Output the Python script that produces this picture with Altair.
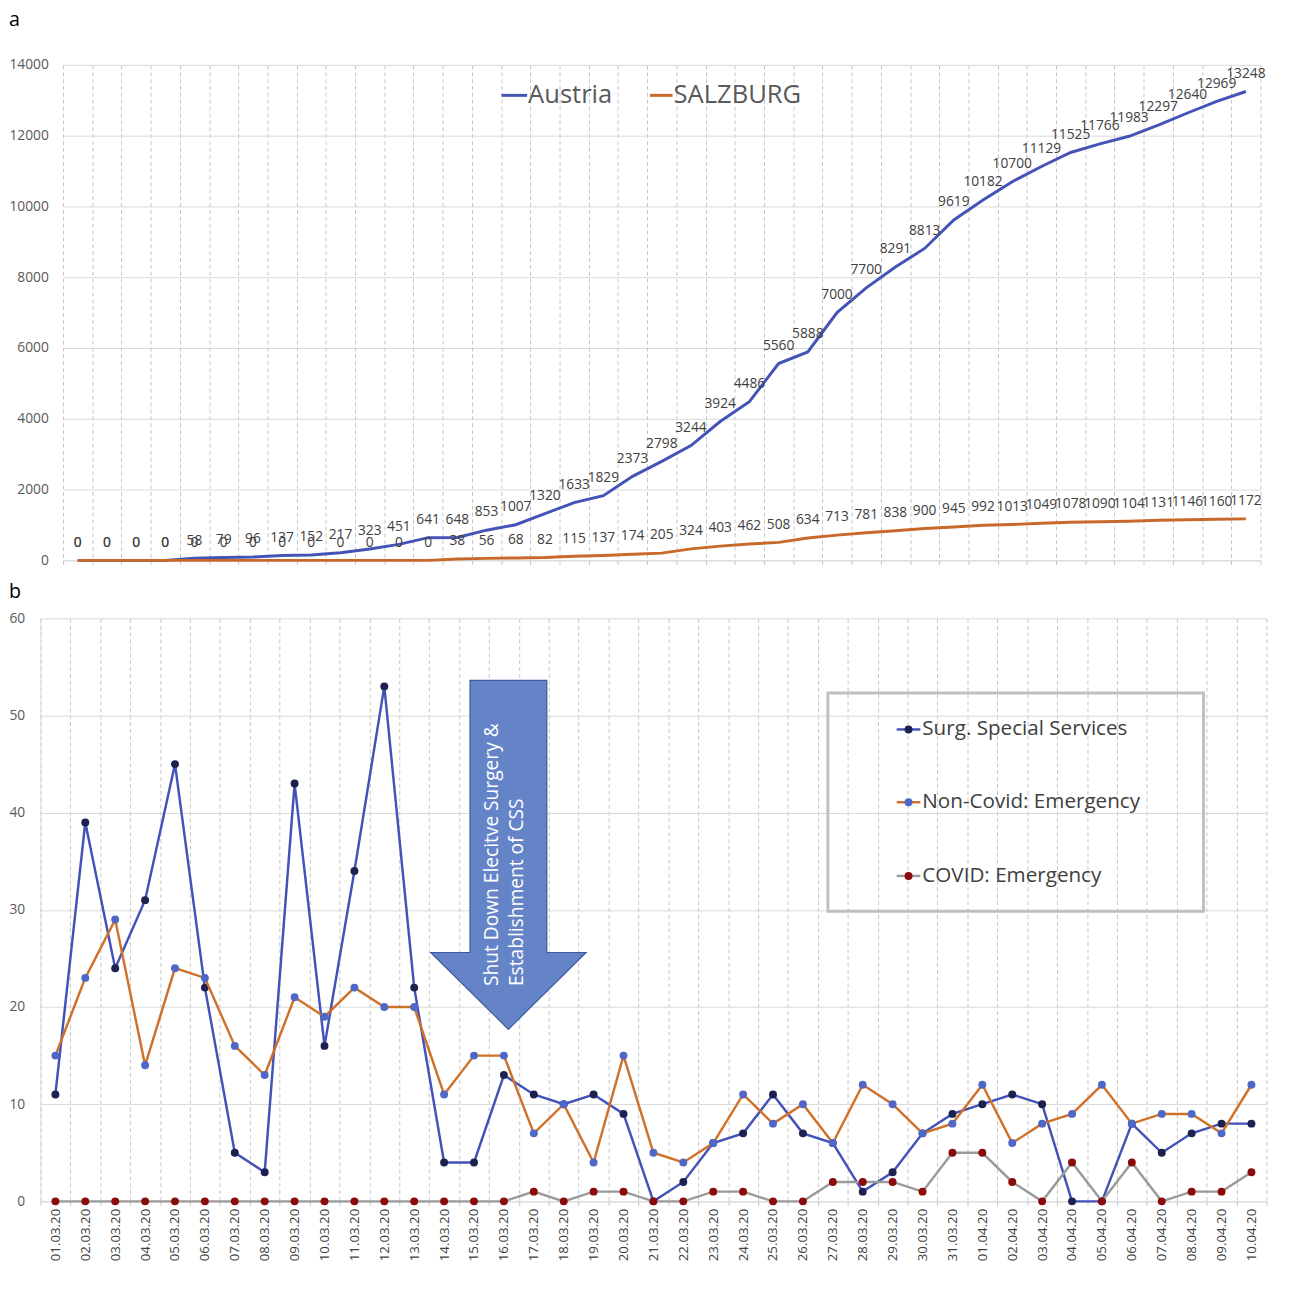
import altair as alt
import pandas as pd

dates = [
    "01.03.20", "02.03.20", "03.03.20", "04.03.20", "05.03.20", "06.03.20",
    "07.03.20", "08.03.20", "09.03.20", "10.03.20", "11.03.20", "12.03.20",
    "13.03.20", "14.03.20", "15.03.20", "16.03.20", "17.03.20", "18.03.20",
    "19.03.20", "20.03.20", "21.03.20", "22.03.20", "23.03.20", "24.03.20",
    "25.03.20", "26.03.20", "27.03.20", "28.03.20", "29.03.20", "30.03.20",
    "31.03.20", "01.04.20", "02.04.20", "03.04.20", "04.04.20", "05.04.20",
    "06.04.20", "07.04.20", "08.04.20", "09.04.20", "10.04.20",
]
austria = [0, 0, 0, 0, 58, 79, 96, 137, 152, 217, 323, 451, 641, 648, 853,
           1007, 1320, 1633, 1829, 2373, 2798, 3244, 3924, 4486, 5560, 5888,
           7000, 7700, 8291, 8813, 9619, 10182, 10700, 11129, 11525, 11766,
           11983, 12297, 12640, 12969, 13248]
salzburg = [0, 0, 0, 0, 0, 0, 0, 0, 0, 0, 0, 0, 0, 38, 56, 68, 82, 115, 137,
            174, 205, 324, 403, 462, 508, 634, 713, 781, 838, 900, 945, 992,
            1013, 1049, 1078, 1090, 1104, 1131, 1146, 1160, 1172]
surg = [11, 39, 24, 31, 45, 22, 5, 3, 43, 16, 34, 53, 22, 4, 4, 13, 11, 10,
        11, 9, 0, 2, 6, 7, 11, 7, 6, 1, 3, 7, 9, 10, 11, 10, 0, 0, 8, 5, 7, 8, 8]
noncovid = [15, 23, 29, 14, 24, 23, 16, 13, 21, 19, 22, 20, 20, 11, 15, 15, 7,
            10, 4, 15, 5, 4, 6, 11, 8, 10, 6, 12, 10, 7, 8, 12, 6, 8, 9, 12, 8,
            9, 9, 7, 12]
covid = [0, 0, 0, 0, 0, 0, 0, 0, 0, 0, 0, 0, 0, 0, 0, 0, 1, 0, 1, 1, 0, 0, 1,
         1, 0, 0, 2, 2, 2, 1, 5, 5, 2, 0, 4, 0, 4, 0, 1, 1, 3]

series_a = ["Austria", "SALZBURG"]
keys_b = ["surg", "noncovid", "covid"]
names_b = ["Surg. Special Services", "Non-Covid: Emergency", "COVID: Emergency"]
yticks_a = [0, 2000, 4000, 6000, 8000, 10000, 12000, 14000]
yticks_b = [0, 10, 20, 30, 40, 50, 60]

df_a = pd.DataFrame({"date": dates, "Austria": austria, "SALZBURG": salzburg})
df_b = pd.DataFrame({"date": dates, "surg": surg, "noncovid": noncovid, "covid": covid})
one = pd.DataFrame({"k": [0]})

FONT = "Open Sans"
GRID = "#D9D9D9"
VGRID = "#C4C4C4"
LABEL = "#595959"
line_a_colors = ["#4353B6", "#C8692B"]
line_b_colors = ["#4352B8", "#D0712A", "#9A9A9A"]
dot_b_colors = ["#1C2150", "#4F68C8", "#8B0A0A"]

SHIFT_B = 23
WA = 1218
WB = 1224

band_a = alt.Scale(type="band", domain=dates, paddingInner=0, paddingOuter=0)
band_b = alt.Scale(type="band", domain=dates, paddingInner=0, paddingOuter=0,
                   range=[-SHIFT_B, WB])


def x_enc(axis, scale):
    return alt.X("date:N", scale=scale, bandPosition=0.5, axis=axis)


def txt(x, y, s, size, color=LABEL, **kw):
    return alt.Chart(one).mark_text(
        text=s, align="left", baseline="middle", font=FONT, fontSize=size,
        color=color, **kw
    ).encode(x=alt.value(x), y=alt.value(y))


def seg(x1, x2, y, color, width):
    return alt.Chart(one).mark_rule(color=color, strokeWidth=width).encode(
        x=alt.value(x1), x2=alt.value(x2), y=alt.value(y))


axis_xa = alt.Axis(title=None, labels=False, grid=True, gridColor=VGRID,
                   gridDash=[4, 3], tickBand="extent", ticks=True, tickSize=5,
                   tickColor=VGRID, tickDash=[4, 3], domain=True, domainColor=GRID)
axis_ya = alt.Axis(title=None, values=yticks_a, format="d", grid=True,
                   gridColor=GRID, domain=False, ticks=False, labelPadding=15,
                   labelFont=FONT, labelFontSize=14, labelColor=LABEL)

base_a = alt.Chart(df_a).transform_fold(series_a, as_=["series", "value"])
lines_a = base_a.mark_line(strokeWidth=3).encode(
    x=x_enc(axis_xa, band_a),
    y=alt.Y("value:Q", scale=alt.Scale(domain=[0, 14000], nice=False), axis=axis_ya),
    color=alt.Color("series:N", scale=alt.Scale(domain=series_a, range=line_a_colors),
                    legend=None),
)
labels_a = base_a.mark_text(dy=-18, baseline="middle", font=FONT, fontSize=14,
                            color="#404040").encode(
    x=x_enc(axis_xa, band_a), y=alt.Y("value:Q"),
    text=alt.Text("value:Q", format="d"),
)
legend_a = [
    seg(446, 472, 31, line_a_colors[0], 3), txt(473, 31, series_a[0], 26),
    seg(597, 620, 31, line_a_colors[1], 3), txt(621, 31, series_a[1], 26),
]
tag_a = txt(-55, -46, "a", 20, color="#000000")
panel_a = alt.layer(lines_a, labels_a, *legend_a, tag_a).properties(width=WA, height=504)

axis_xb = alt.Axis(title=None, labelAngle=-90, labelFont=FONT, labelFontSize=13.5,
                   labelColor="#404040", labelPadding=0, grid=True, gridColor=VGRID,
                   gridDash=[4, 3], tickBand="extent", ticks=True, tickSize=7,
                   tickColor=VGRID, tickDash=[4, 3], domain=True, domainColor=GRID)
axis_yb = alt.Axis(title=None, values=yticks_b, format="d", grid=True,
                   gridColor=GRID, domain=True, domainColor=GRID, ticks=False,
                   offset=SHIFT_B, labelPadding=16, labelFont=FONT,
                   labelFontSize=14, labelColor=LABEL)

base_b = alt.Chart(df_b)
layers_b = []
for key, lc, dc in zip(keys_b, line_b_colors, dot_b_colors):
    yb = alt.Y(f"{key}:Q", scale=alt.Scale(domain=[0, 60], nice=False), axis=axis_yb)
    layers_b.append(base_b.mark_line(strokeWidth=2.5, color=lc).encode(
        x=x_enc(axis_xb, band_b), y=yb))
    layers_b.append(base_b.mark_circle(size=65, opacity=1, color=dc).encode(
        x=x_enc(axis_xb, band_b), y=yb))

arrow_path = "M-0.22,-1L0.22,-1L0.22,0.56L0.445,0.56L0,1L-0.445,0.56L-0.22,0.56Z"
arrow = alt.Chart(one).mark_point(
    shape=arrow_path, size=126025, filled=True, fill="#6584C8",
    stroke="#3B5A9C", strokeWidth=1.2, opacity=1,
).encode(x=alt.value(453), y=alt.value(240.5))
arrow_t1 = txt(436, 374, "Shut Down Elecitve Surgery &", 19.5, color="#FFFFFF", angle=270)
arrow_t2 = txt(462, 374, "Establishment of CSS", 19.5, color="#FFFFFF", angle=270)

box = alt.Chart(one).mark_rect(fillOpacity=0, stroke="#BFBFBF", strokeWidth=3).encode(
    x=alt.value(778), x2=alt.value(1160), y=alt.value(76), y2=alt.value(298))
legend_b = [box]
for name, lc, dc, ly in zip(names_b, line_b_colors, dot_b_colors, [113, 187, 262]):
    legend_b.append(seg(848, 872, ly, lc, 2.5))
    legend_b.append(alt.Chart(one).mark_circle(size=65, opacity=1, color=dc)
                    .encode(x=alt.value(860), y=alt.value(ly)))
    legend_b.append(txt(874, ly, name, 21, color="#404040"))

tag_b = txt(-55, -27, "b", 20, color="#000000")
spacer_b = txt(-55, -42, "b", 20, color="#FFFFFF", opacity=0)
panel_b = alt.layer(*layers_b, arrow, arrow_t1, arrow_t2, *legend_b,
                    tag_b, spacer_b).properties(width=WB, height=593)

chart = alt.vconcat(panel_a, panel_b, spacing=0).properties(
    padding={"left": 0, "top": -9, "right": 0, "bottom": 0},
    background="white",
).configure_view(stroke=None)

chart.save("out.html", embed_options={"renderer": "svg", "actions": False})
